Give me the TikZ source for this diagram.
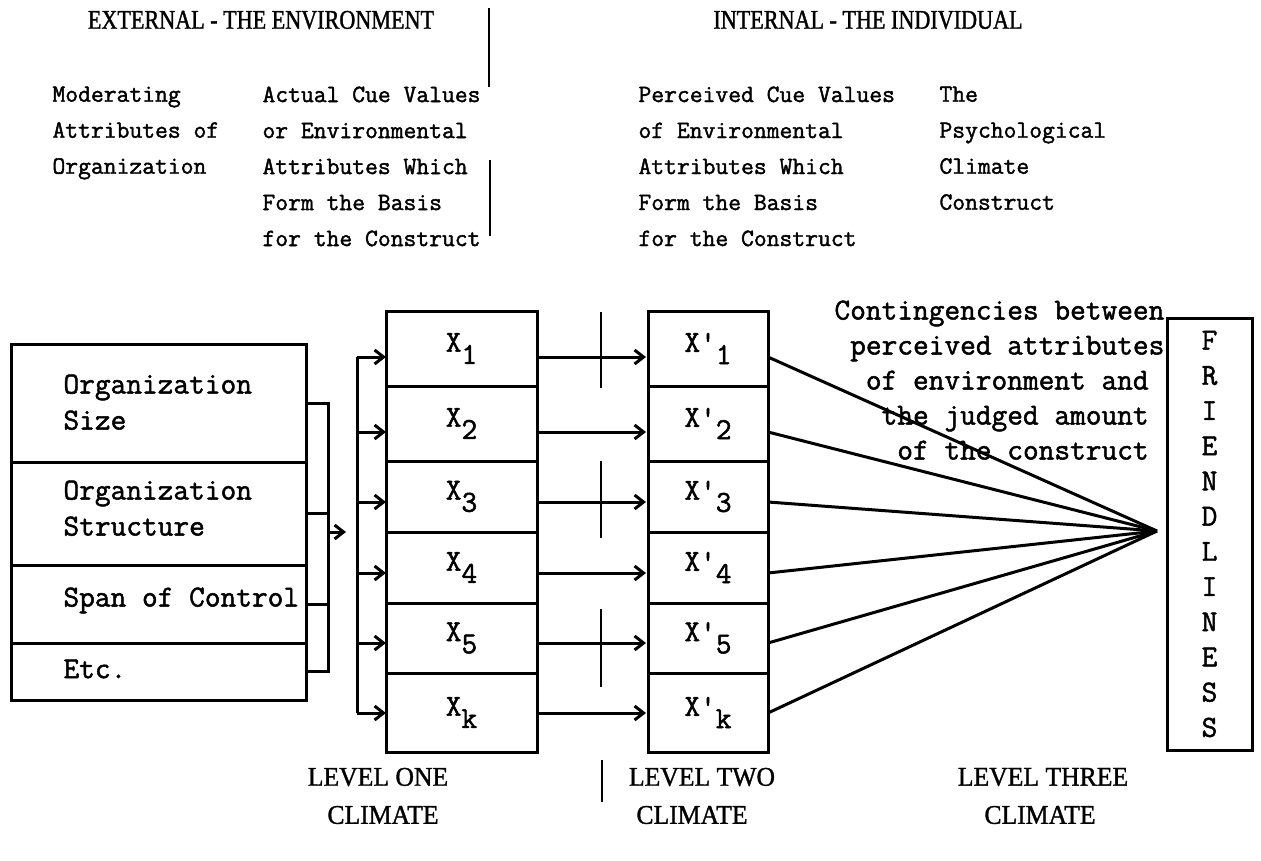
\documentclass[tikz,border=0pt]{standalone}
\usepackage{fontspec}
\newfontfamily\capsfont{Liberation Serif}[FakeStretch=0.82,FakeBold=1.2]
\newfontfamily\lvlfont{Liberation Serif}[FakeStretch=0.95,FakeBold=1.2]
\newfontfamily\tw{lmmono12-regular.otf}[FakeBold=1.6]
\usetikzlibrary{arrows.meta,calc}
\begin{document}
\begin{tikzpicture}[x=1pt,y=-1pt,line width=3pt,
  hdr/.style={font=\tw\fontsize{24.9}{36}\selectfont,inner sep=0pt,align=left,anchor=north west},
  body/.style={font=\tw\fontsize{30.5}{36}\selectfont,inner sep=0pt,align=left,anchor=north west},
  ttl/.style={font=\capsfont\fontsize{27}{30}\selectfont,inner sep=0pt},
  lvl/.style={font=\lvlfont\fontsize{27}{30}\selectfont,inner sep=0pt},
  orgcell/.style={draw,minimum width=295pt,inner sep=0pt,outer sep=0pt},
  xcell/.style={draw,minimum width=151pt,inner sep=0pt,outer sep=0pt,font=\tw\fontsize{30.5}{36}\selectfont},
  xpcell/.style={draw,minimum width=120pt,inner sep=0pt,outer sep=0pt,font=\tw\fontsize{30.5}{36}\selectfont},
  arr/.style={-{Straight Barb[length=9pt,width=14pt]}},
  divider/.style={line width=2.8pt}
]
\useasboundingbox (0,0) rectangle (1261,860);

% headings
\node[ttl] (ext) at (261,20) {EXTERNAL - THE ENVIRONMENT};
\node[ttl] (int) at (868,20) {INTERNAL - THE INDIVIDUAL};

% column headers
\node[hdr] (h1) at (51,85) {Moderating\\Attributes of\\Organization};
\node[hdr] (h2) at (261,85) {Actual Cue Values\\or Environmental\\Attributes Which\\Form the Basis\\for the Construct};
\node[hdr] (h3) at (637,85) {Perceived Cue Values\\of Environmental\\Attributes Which\\Form the Basis\\for the Construct};
\node[hdr] (h4) at (938,85) {The\\Psychological\\Climate\\Construct};

% dividers
\draw[divider] (489,8) -- (489,87);
\draw[divider] (490,160) -- (490,236);
\draw[divider] (601,312) -- (601,388);
\draw[divider] (601,461) -- (601,538);
\draw[divider] (601,609) -- (601,687);
\draw[divider] (602,760) -- (602,802);

% organization box
\node[orgcell,minimum height=118pt] (o1) at (158.5,403) {};
\node[orgcell,minimum height=103pt] (o2) at (158.5,513.5) {};
\node[orgcell,minimum height=78pt] (o3) at (158.5,604) {};
\node[orgcell,minimum height=57pt] (o4) at (158.5,671.5) {};
\node[body] (t1) at (62,373) {Organization\\Size};
\node[body] (t2) at (62,479) {Organization\\Structure};
\node[body] (t3) at (62,586) {Span of Control};
\node[body] (t4) at (62,658) {Etc.};

% bracket
\coordinate (bk) at (328,403);
\draw (o1.east) -- (o1.east -| bk) -- (o4.east -| bk) -- (o4.east);
\draw (o2.east) -- (o2.east -| bk);
\draw (o3.east) -- (o3.east -| bk);
\coordinate (bkout) at (328,532);
\coordinate (bktip) at (346,532);
\draw[arr] (bkout) -- (bktip);

% fan point
\coordinate (fan) at (1157,531);

% X columns
\foreach \i/\yy/\hh/\sub/\off in {1/348.5/75/1/8.5,2/423.5/75/2/8.5,3/496.5/71/3/5.5,4/567.5/71/4/5.5,5/638/70/5/5,6/712.5/79/k/0.5}{
  \node[xcell,minimum height=\hh pt] (x\i) at (461.5,\yy) {X\raisebox{-0.4em}{\sub}};
  \node[xpcell,minimum height=\hh pt] (xp\i) at (708,\yy) {X\textquotesingle\raisebox{-0.4em}{\sub}};
  \coordinate (bus\i) at (357,\yy+\off);
  \draw[arr] (bus\i) -- ([yshift=-\off pt]x\i.west);
  \draw[arr,shorten >=2pt] ([yshift=-\off pt]x\i.east) -- ([yshift=-\off pt]xp\i.west);
  \draw ([yshift=-\off pt]xp\i.east) -- (fan);
}
\draw (bus1) -- (bus6);

% friendliness box
\node[draw,minimum width=85pt,minimum height=432pt,inner sep=0pt,align=center,
  font=\tw\fontsize{30.5}{35.2}\selectfont] (fr) at (1209.5,534)
  {F\\R\\I\\E\\N\\D\\L\\I\\N\\E\\S\\S};

% contingencies label
\node[body,font=\tw\fontsize{30.5}{35}\selectfont] (cont) at (833,299)
  {Contingencies between\\\hphantom{x}perceived attributes\\\hphantom{xx}of environment and\\\hphantom{xxx}the judged amount\\\hphantom{xxxx}of the construct};

% level labels
\node[lvl] (l1) at (378,777) {LEVEL ONE};
\node[lvl] (c1) at (383,815) {CLIMATE};
\node[lvl] (l2) at (702,777) {LEVEL TWO};
\node[lvl] (c2) at (692,815) {CLIMATE};
\node[lvl] (l3) at (1043,777) {LEVEL THREE};
\node[lvl] (c3) at (1040,815) {CLIMATE};
\end{tikzpicture}
\end{document}
